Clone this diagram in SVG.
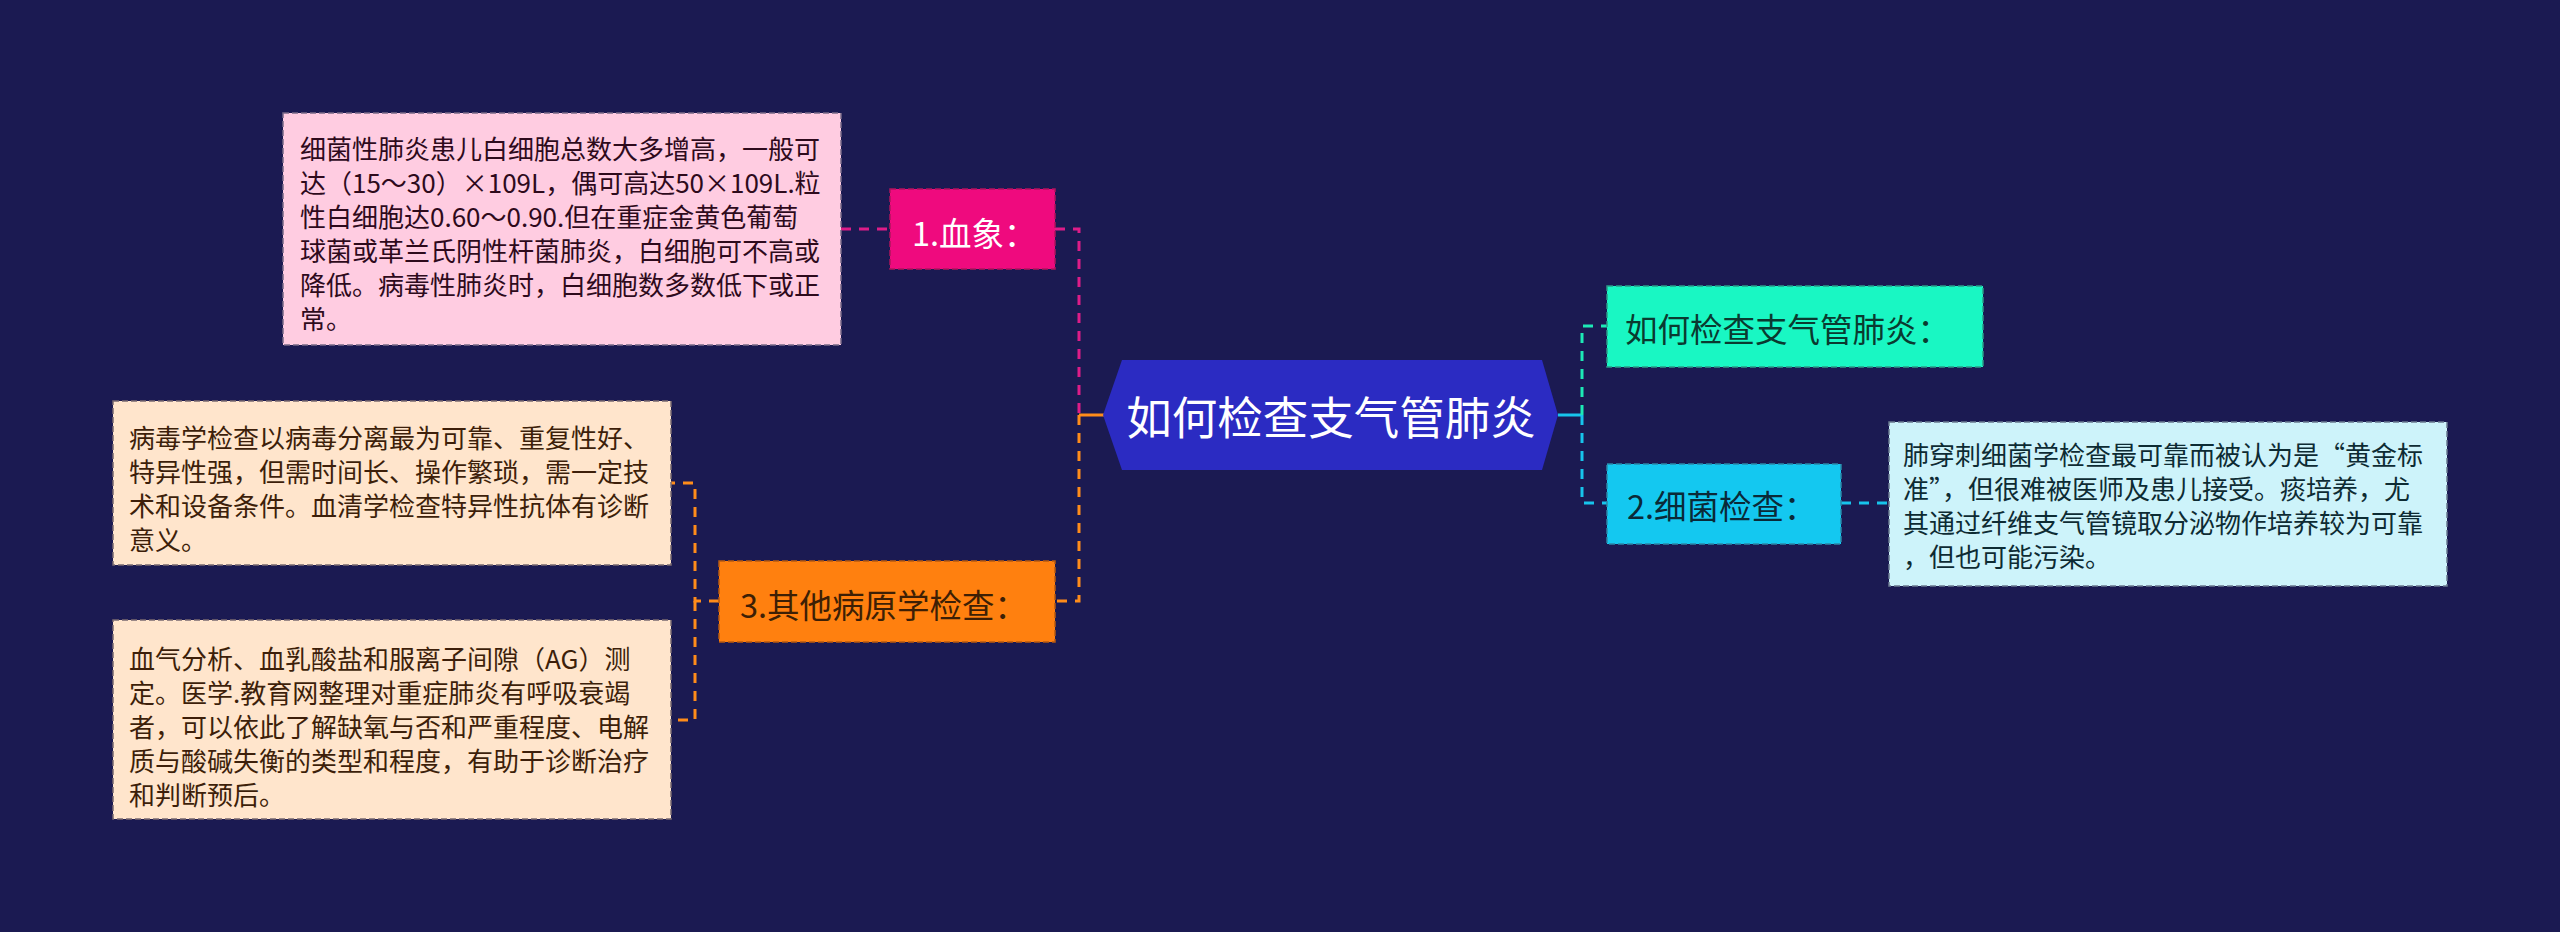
<svg xmlns="http://www.w3.org/2000/svg" width="2560" height="932" viewBox="0 0 2560 932">
<style>
.t{font-family:"Noto Sans CJK SC","Noto Sans",sans-serif;dominant-baseline:central}
.body{font-size:26px}
.lbl{font-size:32.5px}
.box{stroke-width:1.5;stroke-dasharray:6 3}
.c{fill:none;stroke-width:3;stroke-dasharray:10 8}
.s{fill:none;stroke-width:3}
</style>
<rect width="2560" height="932" fill="#1B1A52"/>
<g id="connectors">
<path class="c" d="M841,229 H890" stroke="#DD1C88"/>
<path class="c" d="M1055,229 H1079 V415" stroke="#DD1C88"/>
<path class="c" d="M1079,415 V601 H1055" stroke="#FF8C1A"/>
<path class="s" d="M1104,415 H1079" stroke="#FF8C1A"/>
<path class="c" d="M719,601 H695 V483 H671" stroke="#FF8C1A"/>
<path class="c" d="M695,601 V720 H671" stroke="#FF8C1A"/>
<path class="s" d="M1558,415 H1582" stroke="#17C4EC"/>
<path class="c" d="M1582,415 V326 H1607" stroke="#1DE9B6"/>
<path class="c" d="M1582,415 V503 H1607" stroke="#17C4EC"/>
<path class="c" d="M1841,503 H1889" stroke="#17C4EC"/>
</g>
<g id="center">
<polygon points="1103,415 1122,360 1542,360 1558,415 1542,470 1122,470" fill="#2B2BC2"/>
<text class="t" x="1331" y="415" font-size="45.5" fill="#FFFFFF" text-anchor="middle">如何检查支气管肺炎</text>
</g>
<g id="n1">
<rect class="box" x="890" y="189" width="165" height="80" fill="#EF0A7E" stroke="#B0145E"/>
<text class="t lbl" x="912" y="231" fill="#FFFFFF">1.血象：</text>
</g>
<g id="n1a">
<rect class="box" x="283" y="113" width="558" height="232" fill="#FFCCE1" stroke="#7A6A88"/>
<text class="t body" fill="#2E0A1C">
<tspan x="300" y="147">细菌性肺炎患儿白细胞总数大多增高，一般可</tspan>
<tspan x="300" y="181">达（15～30）×109L，偶可高达50×109L.粒</tspan>
<tspan x="300" y="215">性白细胞达0.60～0.90.但在重症金黄色葡萄</tspan>
<tspan x="300" y="249">球菌或革兰氏阴性杆菌肺炎，白细胞可不高或</tspan>
<tspan x="300" y="283">降低。病毒性肺炎时，白细胞数多数低下或正</tspan>
<tspan x="300" y="317">常。</tspan>
</text>
</g>
<g id="n3">
<rect class="box" x="719" y="561" width="336" height="81" fill="#FF800F" stroke="#B85A10"/>
<text class="t lbl" x="740" y="603" fill="#3D1F05">3.其他病原学检查：</text>
</g>
<g id="n3a">
<rect class="box" x="113" y="401" width="558" height="164" fill="#FFE5CC" stroke="#7A6A70"/>
<text class="t body" fill="#3D1F0A">
<tspan x="129" y="436">病毒学检查以病毒分离最为可靠、重复性好、</tspan>
<tspan x="129" y="470">特异性强，但需时间长、操作繁琐，需一定技</tspan>
<tspan x="129" y="504">术和设备条件。血清学检查特异性抗体有诊断</tspan>
<tspan x="129" y="538">意义。</tspan>
</text>
</g>
<g id="n3b">
<rect class="box" x="113" y="620" width="558" height="199" fill="#FFE5CC" stroke="#7A6A70"/>
<text class="t body" fill="#3D1F0A">
<tspan x="129" y="657">血气分析、血乳酸盐和服离子间隙（AG）测</tspan>
<tspan x="129" y="691">定。医学.教育网整理对重症肺炎有呼吸衰竭</tspan>
<tspan x="129" y="725">者，可以依此了解缺氧与否和严重程度、电解</tspan>
<tspan x="129" y="759">质与酸碱失衡的类型和程度，有助于诊断治疗</tspan>
<tspan x="129" y="793">和判断预后。</tspan>
</text>
</g>
<g id="n0">
<rect class="box" x="1607" y="286" width="376" height="81" fill="#19F7C3" stroke="#2A9C88"/>
<text class="t lbl" x="1625" y="327" fill="#0A3A30">如何检查支气管肺炎：</text>
</g>
<g id="n2">
<rect class="box" x="1607" y="464" width="234" height="80" fill="#14C8F0" stroke="#2A88A8"/>
<text class="t lbl" x="1627" y="504" fill="#0A2A38">2.细菌检查：</text>
</g>
<g id="n2a">
<rect class="box" x="1889" y="422" width="558" height="164" fill="#CDF3FA" stroke="#6A7A90"/>
<text class="t body" fill="#0D2B33">
<tspan x="1903" y="453">肺穿刺细菌学检查最可靠而被认为是“黄金标</tspan>
<tspan x="1903" y="487">准”，但很难被医师及患儿接受。痰培养，尤</tspan>
<tspan x="1903" y="521">其通过纤维支气管镜取分泌物作培养较为可靠</tspan>
<tspan x="1903" y="555">，但也可能污染。</tspan>
</text>
</g>
</svg>
